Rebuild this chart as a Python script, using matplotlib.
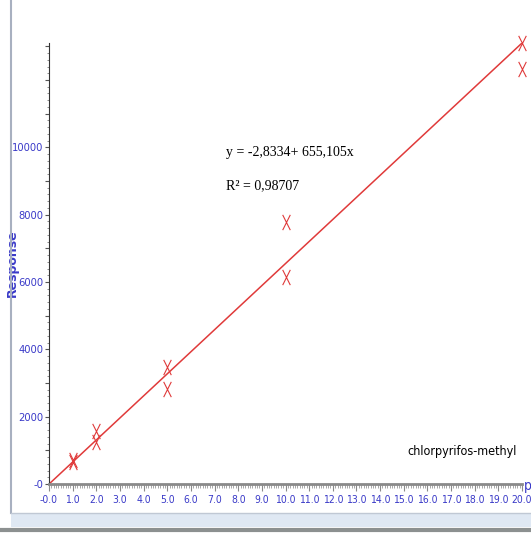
import matplotlib.pyplot as plt
from matplotlib.ticker import MultipleLocator, FuncFormatter
from matplotlib.lines import Line2D
from matplotlib.patches import Rectangle
from matplotlib.path import Path
import numpy as np

# Calibration data (conc, response)
conc = [1, 1, 2, 2, 5, 5, 10, 10, 20, 20]
response = [640, 700, 1570, 1250, 3480, 2820, 7790, 6150, 13100, 12330]

intercept = -2.8334
slope = 655.105
r_squared = 0.98707

BLUE = '#3a3ac8'
RED = '#e03a3a'
NARROW = dict(family='DejaVu Sans', stretch='condensed')

# tall, thin "X" marker
cross = Path([(-0.5, -1), (0.5, 1), (-0.5, 1), (0.5, -1)],
             [Path.MOVETO, Path.LINETO, Path.MOVETO, Path.LINETO])

fig = plt.figure(figsize=(5.31, 5.33), dpi=100)
ax = fig.add_axes([49 / 531, 49 / 533, 473 / 531, 441 / 533])

xs = np.array([0.0, 20.0])
ax.plot(xs, intercept + slope * xs, color=RED, lw=1.1, zorder=2)
ax.plot(conc, response, ls='none', marker=cross, ms=11, mew=0.8, color=RED,
        zorder=3, clip_on=False)

ax.set_xlim(0, 20)
ax.set_ylim(0, 13100)

ax.xaxis.set_major_locator(MultipleLocator(1))
ax.xaxis.set_minor_locator(MultipleLocator(0.1))
ax.yaxis.set_major_locator(MultipleLocator(1000))
ax.yaxis.set_minor_locator(MultipleLocator(200))


def fmt_x(v, pos):
    return '-0.0' if abs(v) < 1e-9 else f'{v:.1f}'


def fmt_y(v, pos):
    if abs(v) < 1e-9:
        return '-0'
    if v <= 10000 and int(round(v)) % 2000 == 0:
        return f'{int(round(v))}'
    return ''


ax.xaxis.set_major_formatter(FuncFormatter(fmt_x))
ax.yaxis.set_major_formatter(FuncFormatter(fmt_y))

for s in ['top', 'right']:
    ax.spines[s].set_visible(False)
ax.spines['left'].set_color('#333333')
ax.spines['left'].set_linewidth(0.8)
ax.spines['bottom'].set_color('#8a8a8a')
ax.spines['bottom'].set_linewidth(2.0)

ax.tick_params(axis='x', which='major', length=5, width=0.8, color='#8a8a8a',
               labelcolor=BLUE, labelsize=7.5, pad=3)
ax.tick_params(axis='x', which='minor', length=3, width=0.6, color='#9a9a9a')
ax.tick_params(axis='y', which='major', length=3, width=0.8, color='#555555',
               labelcolor=BLUE, labelsize=8, pad=1)
ax.tick_params(axis='y', which='minor', length=1.5, width=0.6, color='#777777')
for lab in ax.get_xticklabels() + ax.get_yticklabels():
    lab.set_fontstretch('condensed')

ax.set_ylabel('Response', color=BLUE, fontsize=9, fontweight='bold')
ax.yaxis.set_label_coords(-30 / 473, 0.50)

# clipped unit label at the end of the x axis
fig.text(524 / 531, 1 - 486 / 533, 'p', color=BLUE, fontsize=10,
         ha='left', va='center', **NARROW)

ax.text((226 - 49) / 473, 1 - (153 - 43) / 441,
        f'y = {intercept:.4f}+ {slope:.3f}x'.replace('.', ','),
        transform=ax.transAxes, family='Liberation Serif', fontsize=10,
        va='center', ha='left')
ax.text((226 - 49) / 473, 1 - (186 - 43) / 441,
        f'R² = {r_squared:.5f}'.replace('.', ','),
        transform=ax.transAxes, family='Liberation Serif', fontsize=10,
        va='center', ha='left')

ax.text((517 - 49) / 473, 1 - (452 - 43) / 441, 'chlorpyrifos-methyl',
        transform=ax.transAxes, fontsize=9, ha='right', va='center', **NARROW)

# window frame around the plot
fig.add_artist(Line2D([11 / 531, 11 / 531], [1 - 513 / 533, 1.0], color='#a8b0c0', lw=1.5))
fig.add_artist(Rectangle((11 / 531, 1 - 527 / 533), 520 / 531, 14 / 533,
                         facecolor='#dfe8f3', edgecolor='none'))
fig.add_artist(Line2D([11 / 531, 1.0], [1 - 513 / 533, 1 - 513 / 533], color='#c0c8d4', lw=1))
fig.add_artist(Line2D([0.0, 1.0], [1 - 530 / 533, 1 - 530 / 533], color='#8c9090', lw=3))

fig.savefig('out.png', dpi=100)
